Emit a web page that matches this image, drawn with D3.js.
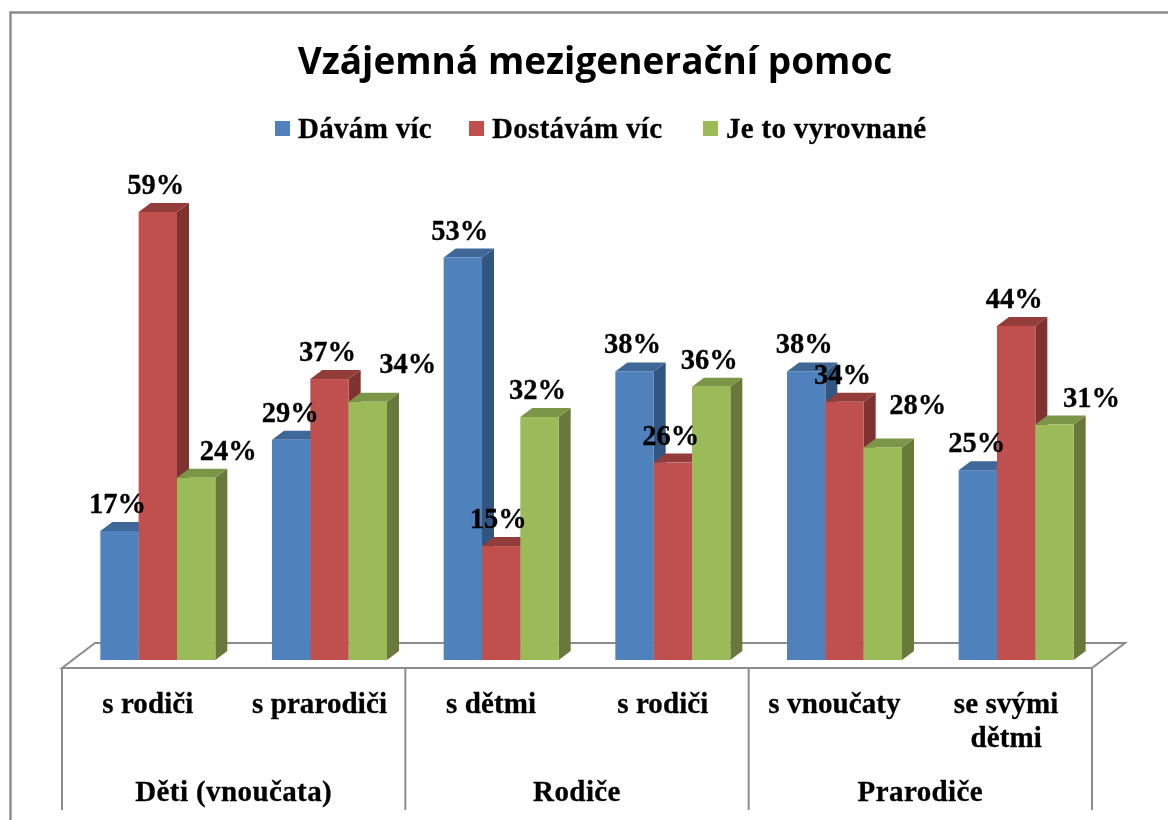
<!DOCTYPE html>
<html><head><meta charset="utf-8">
<script src="https://cdnjs.cloudflare.com/ajax/libs/d3/7.8.5/d3.min.js"></script>
<style>html,body{margin:0;padding:0;background:#fff;overflow:hidden}svg{display:block;filter:blur(0.45px)}text{stroke:#000;stroke-width:0.3px}</style></head>
<body><svg id="c" width="1168" height="820"></svg>
<script>
const titleText = "Vzájemná mezigenerační pomoc";
const seriesNames = ["Dávám víc","Dostávám víc","Je to vyrovnané"];
const categories = [["s rodiči"],["s prarodiči"],["s dětmi"],["s rodiči"],["s vnoučaty"],["se svými","dětmi"]];
const groupNames = ["Děti (vnoučata)","Rodiče","Prarodiče"];
const giving = [17,29,53,38,38,25];
const receiving = [59,37,15,26,34,44];
const balanced = [24,34,32,36,28,31];
const frontColors = ["#4f81bd","#c0504d","#9bbb59"];
const topColors = ["#3f6797","#933d3b","#7c9647"];
const sideColors = ["#325681","#7f3331","#68793b"];
// manual data-label placement, as in the source chart: [dx, dy] from the default spot
const labelNudgeX = [[-2,-2,32],[-1,-2,40],[-3,-3,-2],[-2,-2,-2],[-2,-2,35],[-1,-2,37]];
const labelNudgeY = [[0,0,0],[0,0,-11],[0,0,0],[0,0,0],[0,0,-15],[0,0,0]];

const svg = d3.select("#c");
const serif = "'Liberation Serif',serif";
const line = "#8c8c8c";
const values = [giving,receiving,balanced];
const x0 = d3.scaleBand().domain(d3.range(6)).range([62,1092]);
const x1 = d3.scaleBand().domain(d3.range(3)).range([0,115]);
const offset = (x0.bandwidth()-115)/2 + 10;
const y = d3.scaleLinear().domain([0,59]).range([660,212]);
const dx=12, dy=9;
// frame: top and left edges only are inside the picture
svg.append("path").attr("d","M10.5,820V12.5H1168").attr("fill","none").attr("stroke",line).attr("stroke-width",2.4);
// floor
svg.append("path").attr("fill","#fff").attr("stroke",line).attr("stroke-width",2)
 .attr("d","M62,668L95,643H1125L1092,668Z");
[0,2,4,6].forEach(i=>{
 const px = i<6 ? x0(i) : x0(5)+x0.bandwidth();
 svg.append("line").attr("x1",px).attr("x2",px).attr("y1",668).attr("y2",810).attr("stroke",line).attr("stroke-width",2);
});
// bars
for(let g=0;g<6;g++){
 for(let s=0;s<3;s++){
  const v=values[s][g], l=x0(g)+offset+x1(s), w=x1.bandwidth(), t=y(v), b=y(0);
  const G=svg.append("g");
  G.append("path").attr("fill",sideColors[s]).attr("d",`M${l+w},${t}l${dx},${-dy}V${b-dy}l${-dx},${dy}Z`);
  G.append("path").attr("fill",topColors[s]).attr("d",`M${l},${t}l${dx},${-dy}h${w}l${-dx},${dy}Z`);
  G.append("rect").attr("x",l).attr("y",t).attr("width",w).attr("height",b-t).attr("fill",frontColors[s]);
 }
}
// data labels
for(let g=0;g<6;g++) for(let s=0;s<3;s++){
  const v=values[s][g], c=x0(g)+offset+x1(s)+x1.bandwidth()/2;
  svg.append("text").text(v+"%").attr("x",c+labelNudgeX[g][s]).attr("y",y(v)-18+labelNudgeY[g][s])
   .attr("text-anchor","middle").attr("font-family",serif).attr("font-weight","bold").attr("font-size",28.5).attr("fill","#000");
}
svg.append("text").text(titleText).attr("x",595).attr("y",74).attr("text-anchor","middle").style("stroke","none")
 .attr("font-family","'Open Sans',sans-serif").attr("font-weight",700).attr("font-size",37).attr("fill","#000");
// legend
const legendX=[275,469,703];
seriesNames.forEach((n,i)=>{
 svg.append("rect").attr("x",legendX[i]).attr("y",121).attr("width",15).attr("height",15).attr("fill",frontColors[i]).style("stroke","none");
 svg.append("text").text(n).attr("x",legendX[i]+23).attr("y",138).attr("font-family",serif).attr("font-weight","bold").attr("font-size",29).attr("letter-spacing",0.3);
});
// axis labels
categories.forEach((lines,g)=>{
 lines.forEach((t,i)=>svg.append("text").text(t).attr("x",x0(g)+x0.bandwidth()/2).attr("y",713+i*34)
   .attr("text-anchor","middle").attr("font-family",serif).attr("font-weight","bold").attr("font-size",29).attr("letter-spacing",0.1));
});
groupNames.forEach((t,i)=>svg.append("text").text(t).attr("x",x0(i*2)+x0.bandwidth()).attr("y",801)
   .attr("text-anchor","middle").attr("font-family",serif).attr("font-weight","bold").attr("font-size",29).attr("letter-spacing",0.4));
</script></body></html>
